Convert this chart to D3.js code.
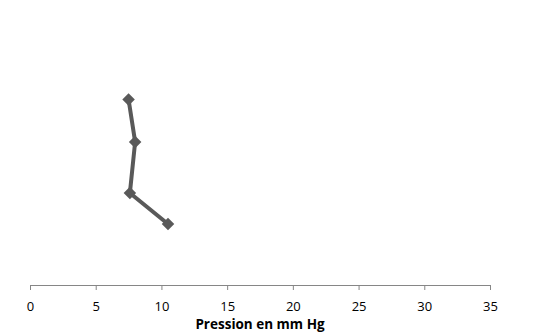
<!DOCTYPE html>
<html>
<head>
<meta charset="utf-8">
<script src="https://cdn.jsdelivr.net/npm/d3@7"></script>
<style>
  html, body { margin: 0; padding: 0; background: #fff; }
  svg { display: block; }
</style>
</head>
<body>
<svg id="chart" width="559" height="334"></svg>
<script>
// Pressure readings (mm Hg) against the hidden vertical measure
const pression = [7.5, 8.0, 7.6, 10.5];
const niveau = [70, 54, 34.7, 23];
const xTicks = [0, 5, 10, 15, 20, 25, 30, 35];
const xTitle = "Pression en mm Hg";

(function () {
  const svg = d3.select("#chart");
  const plotLeft = 30, plotRight = 490, plotTop = 20, axisY = 285;

  const x = d3.scaleLinear().domain([0, 35]).range([plotLeft, plotRight]);
  const y = d3.scaleLinear().domain([0, 100]).range([axisY, plotTop]);

  const points = pression.map((p, i) => ({ x: p, y: niveau[i] }));

  // x axis
  const axis = svg.append("g")
    .attr("transform", `translate(0,${axisY})`)
    .call(d3.axisBottom(x).tickValues(xTicks).tickSize(5).tickSizeOuter(0).tickPadding(12));
  axis.select(".domain").attr("stroke", "#868686").attr("stroke-width", 1);
  axis.selectAll(".tick line").attr("stroke", "#868686");
  axis.selectAll(".tick text")
    .attr("fill", "#000")
    .style("font-family", "'Open Sans', 'Liberation Sans', sans-serif")
    .style("font-size", "13px");

  svg.append("text")
    .attr("x", (plotLeft + plotRight) / 2)
    .attr("y", 328.5)
    .attr("text-anchor", "middle")
    .style("font-family", "'Open Sans', 'Liberation Sans', sans-serif")
    .style("font-size", "13.5px")
    .style("font-weight", "bold")
    .text(xTitle);

  // series line
  svg.append("path")
    .datum(points)
    .attr("fill", "none")
    .attr("stroke", "#595959")
    .attr("stroke-width", 4)
    .attr("stroke-linejoin", "round")
    .attr("d", d3.line().x(d => x(d.x)).y(d => y(d.y)));

  // diamond markers
  svg.selectAll(".marker")
    .data(points)
    .join("path")
    .attr("class", "marker")
    .attr("transform", d => `translate(${x(d.x)},${y(d.y)})`)
    .attr("d", d3.symbol().type(d3.symbolDiamond2).size(100))
    .attr("fill", "#595959");
})();
</script>
</body>
</html>
